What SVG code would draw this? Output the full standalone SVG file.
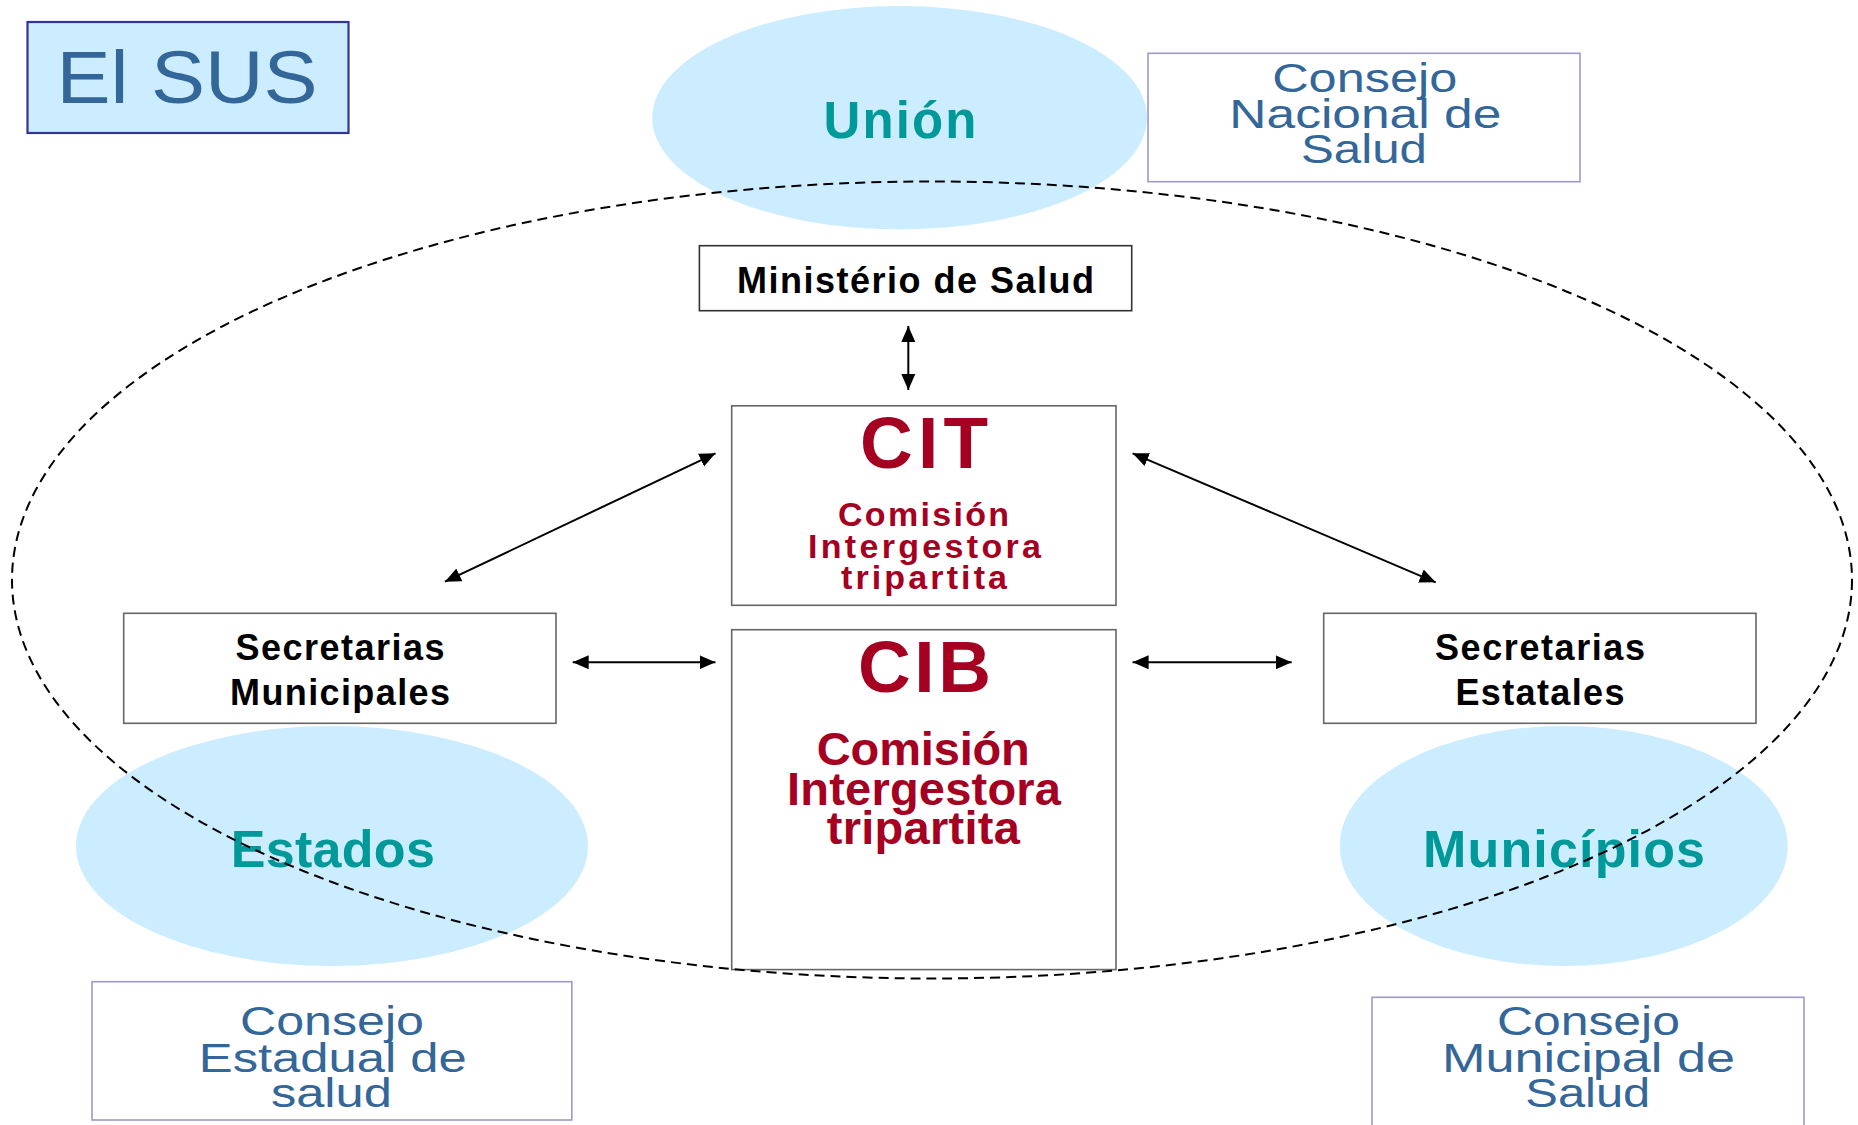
<svg xmlns="http://www.w3.org/2000/svg" width="1858" height="1125" viewBox="0 0 1858 1125">
<defs>
<style>
.blob{fill:#CCECFF;stroke:none}
.level{font-family:"Liberation Sans",Arial,sans-serif;font-weight:bold;fill:#009999;text-anchor:middle}
.council{fill:#FFFFFF;stroke:#9999CC;stroke-width:1.6}
.ctext{font-family:"Liberation Sans",Arial,sans-serif;font-size:40px;fill:#336699;text-anchor:middle}
.box{fill:#FFFFFF;stroke:#666666;stroke-width:1.6}
.btext{font-family:"Liberation Sans",Arial,sans-serif;font-weight:bold;font-size:36px;fill:#000000;text-anchor:middle}
.red{font-family:"Liberation Sans",Arial,sans-serif;font-weight:bold;fill:#A50021;text-anchor:middle}
.conn{stroke:#000000;stroke-width:2;fill:none;marker-start:url(#ah);marker-end:url(#ah)}
</style>
<marker id="ah" markerUnits="userSpaceOnUse" markerWidth="18" markerHeight="16" refX="16" refY="7" orient="auto-start-reverse" viewBox="0 0 18 14">
<path d="M0,0 L16,7 L0,14 z" fill="#000000"/>
</marker>
</defs>
<rect width="1858" height="1125" fill="#FFFFFF"/>

<g id="title">
<rect x="27.5" y="22" width="321" height="111" fill="#CCECFF" stroke="#333399" stroke-width="2.2"/>
<text x="187" y="102.7" font-family="'Liberation Sans',Arial,sans-serif" font-size="74" fill="#336699" text-anchor="middle" textLength="261" lengthAdjust="spacingAndGlyphs">El SUS</text>
</g>

<g id="union">
<ellipse class="blob" cx="899.6" cy="117.7" rx="247.4" ry="111.7"/>
<text class="level" x="900" y="138.3" font-size="51" textLength="153" lengthAdjust="spacing">Unión</text>
</g>

<g id="consejo-nacional">
<rect class="council" x="1148" y="53.3" width="432" height="128.4"/>
<text class="ctext" font-size="41" x="1364.7" y="91.7" textLength="185" lengthAdjust="spacingAndGlyphs">Consejo</text>
<text class="ctext" font-size="41" x="1365.3" y="127.7" textLength="272" lengthAdjust="spacingAndGlyphs">Nacional de</text>
<text class="ctext" font-size="41" x="1364" y="163" textLength="126" lengthAdjust="spacingAndGlyphs">Salud</text>
</g>

<g id="ministerio">
<rect x="699.4" y="245.7" width="432.3" height="65" fill="#FFFFFF" stroke="#333333" stroke-width="1.6"/>
<text class="btext" x="915.6" y="292.7" textLength="357" lengthAdjust="spacing">Ministério de Salud</text>
</g>

<g id="cit">
<rect class="box" x="731.7" y="405.8" width="384.3" height="199.5" stroke="#808080"/>
<text class="red" x="924" y="468.3" font-size="73" textLength="128" lengthAdjust="spacing">CIT</text>
<text class="red" x="923.5" y="526" font-size="34" textLength="171" lengthAdjust="spacing">Comisión</text>
<text class="red" x="924.5" y="557.5" font-size="34" textLength="233" lengthAdjust="spacing">Intergestora</text>
<text class="red" x="924" y="588.7" font-size="34" textLength="166" lengthAdjust="spacing">tripartita</text>
</g>

<g id="cib">
<rect class="box" x="731.7" y="629.7" width="384.3" height="339.9" stroke="#808080"/>
<text class="red" x="924.5" y="691.8" font-size="73" textLength="133" lengthAdjust="spacing">CIB</text>
<text class="red" x="923.3" y="764.5" font-size="47" textLength="213" lengthAdjust="spacing">Comisión</text>
<text class="red" x="924" y="805" font-size="47" textLength="274" lengthAdjust="spacing">Intergestora</text>
<text class="red" x="923.3" y="844" font-size="47" textLength="193" lengthAdjust="spacing">tripartita</text>
</g>

<g id="secretarias-municipales">
<rect class="box" x="123.7" y="613.3" width="432.3" height="110"/>
<text class="btext" x="340" y="660" textLength="209" lengthAdjust="spacing">Secretarias</text>
<text class="btext" x="340" y="705" textLength="220" lengthAdjust="spacing">Municipales</text>
</g>

<g id="secretarias-estatales">
<rect class="box" x="1323.7" y="613.3" width="432.3" height="110"/>
<text class="btext" x="1540" y="660" textLength="210" lengthAdjust="spacing">Secretarias</text>
<text class="btext" x="1540" y="705" textLength="169" lengthAdjust="spacing">Estatales</text>
</g>

<g id="estados">
<ellipse class="blob" cx="332" cy="846" rx="256" ry="120"/>
<text class="level" x="332.8" y="866.7" font-size="52" textLength="204" lengthAdjust="spacing">Estados</text>
</g>

<g id="municipios">
<ellipse class="blob" cx="1563.7" cy="846" rx="224" ry="120"/>
<text class="level" x="1564" y="866.7" font-size="52" textLength="282" lengthAdjust="spacing">Municípios</text>
</g>

<g id="consejo-estadual">
<rect class="council" x="92" y="981.7" width="479.8" height="138.3"/>
<text class="ctext" x="332" y="1035" textLength="184" lengthAdjust="spacingAndGlyphs">Consejo</text>
<text class="ctext" x="332.8" y="1071.7" textLength="268" lengthAdjust="spacingAndGlyphs">Estadual de</text>
<text class="ctext" x="331.4" y="1107" textLength="121" lengthAdjust="spacingAndGlyphs">salud</text>
</g>

<g id="consejo-municipal">
<rect class="council" x="1372" y="997.3" width="432" height="140"/>
<text class="ctext" x="1588.4" y="1035" textLength="183" lengthAdjust="spacingAndGlyphs">Consejo</text>
<text class="ctext" x="1588.5" y="1071.7" textLength="293" lengthAdjust="spacingAndGlyphs">Municipal de</text>
<text class="ctext" x="1587.8" y="1107" textLength="125" lengthAdjust="spacingAndGlyphs">Salud</text>
</g>

<g id="sus-boundary">
<ellipse cx="932" cy="580" rx="920" ry="398.5" fill="none" stroke="#000000" stroke-width="2" stroke-dasharray="10,6"/>
</g>

<g id="connectors">
<line class="conn" x1="908.3" y1="326" x2="908.3" y2="390"/>
<line class="conn" x1="444.9" y1="581.7" x2="715.5" y2="453.3"/>
<line class="conn" x1="1435.7" y1="582.3" x2="1132.6" y2="453.3"/>
<line class="conn" x1="572.7" y1="662.3" x2="715.5" y2="662.3"/>
<line class="conn" x1="1132.6" y1="662.3" x2="1291.7" y2="662.3"/>
</g>
</svg>
